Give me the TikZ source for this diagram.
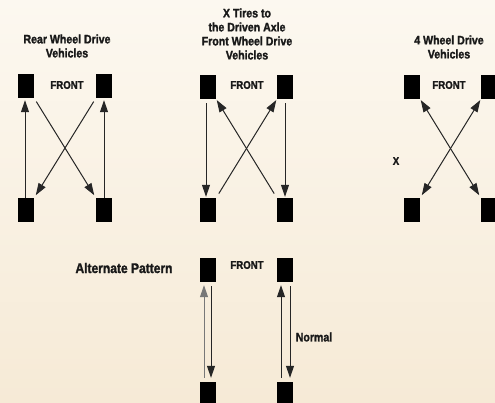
\documentclass[tikz,border=0pt]{standalone}
\usepackage{fontspec}
\usetikzlibrary{arrows.meta}
\newfontfamily\labfont[FakeStretch=0.86,FakeBold=1.6]{Liberation Sans Bold}
\definecolor{bgtop}{RGB}{252,248,240}
\definecolor{bgbot}{RGB}{246,234,214}
\definecolor{linegray}{RGB}{120,120,120}
\begin{document}
\begin{tikzpicture}[x=1pt,y=-1pt,
  tire/.style={fill=black,inner sep=0pt,minimum width=16pt,minimum height=24pt},
  lab/.style={inner sep=0pt,align=center,text=black!90,font=\labfont\fontsize{12.3}{14}\selectfont},
  frontlab/.style={inner sep=0pt,text=black!90,font=\labfont\fontsize{11.2}{13}\selectfont},
  arr/.style={draw=black!85,line width=1pt,-{Triangle[length=12pt,width=8pt]}},
  darr/.style={draw=black!85,line width=1pt,{Triangle[length=12pt,width=8pt]}-{Triangle[length=12pt,width=8pt]}}]
\useasboundingbox (0,0) rectangle (495,402);
\clip (0,0) rectangle (495,402);
\shade[top color=bgtop,bottom color=bgbot] (0,0) rectangle (495,402);

% titles
\node[lab] (t1) at (67,46) {Rear Wheel Drive\\Vehicles};
\node[lab] (t2) at (247,34) {X Tires to\\the Driven Axle\\Front Wheel Drive\\Vehicles};
\node[lab] (t3) at (449,47) {4 Wheel Drive\\Vehicles};

% panel 1
\node[tire] (p1tl) at (26,86) {};
\node[tire] (p1tr) at (104,86) {};
\node[tire] (p1bl) at (26,210) {};
\node[tire] (p1br) at (104,210) {};
\node[frontlab] (f1) at (67,85) {FRONT};
\draw[arr,shorten >=2pt] ([xshift=-1pt]p1bl.north) -- ([xshift=-1pt]p1tl.south);
\draw[arr,shorten >=2pt] (p1br.north) -- (p1tr.south);
\draw[arr,shorten <=4pt,shorten >=3pt] (p1tl.south east) -- (p1br.north west);
\draw[arr,shorten <=4pt,shorten >=3pt] (p1tr.south west) -- (p1bl.north east);

% panel 2
\node[tire] (p2tl) at (208,87) {};
\node[tire] (p2tr) at (285,87) {};
\node[tire] (p2bl) at (208,210) {};
\node[tire] (p2br) at (285,210) {};
\node[frontlab] (f2) at (247,85) {FRONT};
\draw[arr,shorten <=4pt,shorten >=1pt] ([xshift=-2pt]p2tl.south) -- ([xshift=-2pt]p2bl.north);
\draw[arr,shorten <=4pt,shorten >=1pt] (p2tr.south) -- (p2br.north);
\draw[arr,shorten <=5pt,shorten >=1pt] (p2bl.north east) -- (p2tr.south west);
\draw[arr,shorten <=5pt,shorten >=1pt] (p2br.north west) -- (p2tl.south east);

% panel 3
\node[tire] (p3tl) at (412,87) {};
\node[tire] (p3tr) at (489,87) {};
\node[tire] (p3bl) at (412,210) {};
\node[tire] (p3br) at (489,210) {};
\node[frontlab] (f3) at (449,85) {FRONT};
\node[frontlab] (x3) at (396,161) {X};
\draw[darr,shorten <=1pt,shorten >=3pt] (p3tl.south east) -- (p3br.north west);
\draw[darr,shorten <=1pt,shorten >=3pt] (p3tr.south west) -- (p3bl.north east);

% panel 4
\node[tire] (p4tl) at (208,270) {};
\node[tire] (p4tr) at (285,270) {};
\node[tire] (p4bl) at (208,394) {};
\node[tire] (p4br) at (285,394) {};
\node[frontlab] (f4) at (247,265) {FRONT};
\node[lab,font=\labfont\fontsize{14}{16}\selectfont] (alt) at (124,268) {Alternate Pattern};
\node[lab] (norm) at (314,337) {Normal};
\draw[arr,draw=linegray,shorten <=4pt,shorten >=3pt] ([xshift=-4pt]p4bl.north) -- ([xshift=-4pt]p4tl.south);
\draw[arr,shorten <=4pt,shorten >=4pt] ([xshift=3pt]p4tl.south) -- ([xshift=3pt]p4bl.north);
\draw[arr,shorten <=4pt,shorten >=3pt] ([xshift=-4pt]p4br.north) -- ([xshift=-4pt]p4tr.south);
\draw[arr,shorten <=4pt,shorten >=4pt] ([xshift=5pt]p4tr.south) -- ([xshift=5pt]p4br.north);
\end{tikzpicture}
\end{document}
